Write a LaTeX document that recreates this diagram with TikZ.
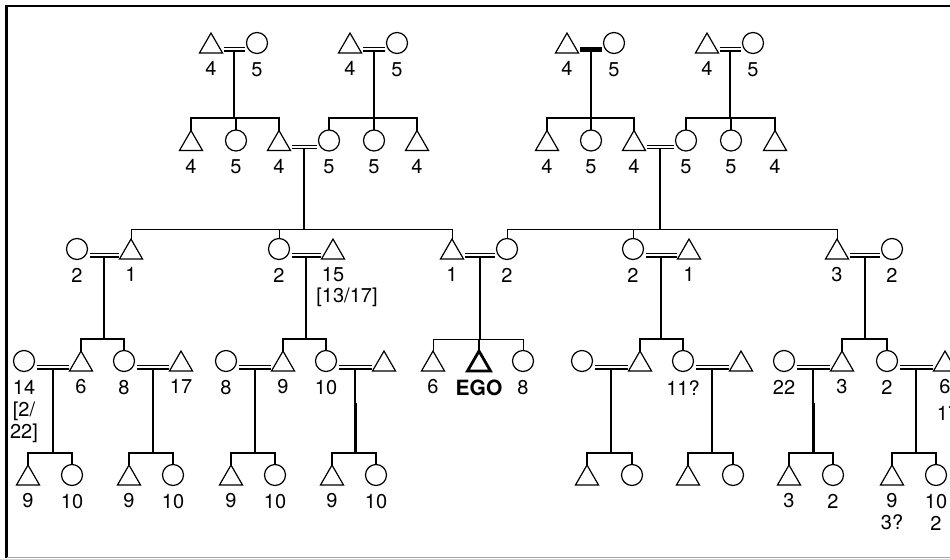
\documentclass[tikz,border=0pt]{standalone}
\usepackage{fontspec}
\setmainfont{TeX Gyre Heros}
\usetikzlibrary{shapes.geometric,calc}

\tikzset{
  person/.style={draw, line width=1.2pt, inner sep=0pt, outer sep=0pt},
  male/.style={person, regular polygon, regular polygon sides=3, minimum size=26.6pt, anchor=south},
  female/.style={person, circle, minimum size=21pt},
  ego/.style={male, line width=2.8pt},
  kin/.style={line width=2pt},
  bar/.style={line width=1.5pt},
  thinbar/.style={line width=1.0pt},
  marr/.style={double, double distance=1.9pt, line width=1.25pt},
  marrsolid/.style={line width=4.6pt},
  lab/.style={font=\fontsize{20}{22}\selectfont, inner sep=0pt, align=center},
  every label/.style={lab},
  label distance=8.5pt,
}

% marriage sign between two partners; #4 names the point the descent line starts from
\newcommand\wed[4][marr]{%
  \path (#2.south) -- (#3.south) coordinate[midway, yshift=2.3pt] (#4);
  \draw[#1] ($(#2.south |- #4)+(12.5,-1.6)$) -- ($(#3.south |- #4)+(-12.5,-1.6)$);}

% descent line and sibling bar from a marriage down to the outer children
\newcommand\sibs[5][bar]{%
  \draw[kin] (#2) -- (#2 |- #3);
  \draw[#1] (#4.north) |- (#5.north |- #3) -- (#5.north);}

% drop from a sibling bar to a middle child
\newcommand\drop[3][bar]{\draw[#1] (#3.north) -- (#3.north |- #2);}

\begin{document}
\begin{tikzpicture}[x=1pt,y=-1pt]
\useasboundingbox (0,0) rectangle (950,559);
\clip (0,0) rectangle (950,559);

% frame
\draw[line width=2.4pt] (6.5,5) -- (6.5,557.5);
\draw[line width=2pt] (5.3,6) -- (950,6);
\draw[black!35, line width=1pt] (6.5,557) -- (950,557);

% heights of the sibling bars
\coordinate (b2) at (0,118);
\coordinate (b3) at (0,229);
\coordinate (b4) at (0,339);
\coordinate (b5) at (0,453);

% generation 1
\node[male,   label=below:4] (g1a) at (211,53) {};
\node[female, label=below:5] (g1b) at (257,43) {};
\node[male,   label=below:4] (g1c) at (350,53) {};
\node[female, label=below:5] (g1d) at (397,43) {};
\node[male,   label=below:4] (g1e) at (567,53) {};
\node[female, label=below:5] (g1f) at (614,43) {};
\node[male,   label=below:4] (g1g) at (707,53) {};
\node[female, label=below:5] (g1h) at (753,43) {};

% generation 2
\node[male,   label=below:4] (g2a) at (191,150.5) {};
\node[female, label=below:5] (g2b) at (236,140.5) {};
\node[male,   label=below:4] (g2c) at (279,150.5) {};
\node[female, label=below:5] (g2d) at (329,140.5) {};
\node[female, label=below:5] (g2e) at (374,140.5) {};
\node[male,   label=below:4] (g2f) at (417,150.5) {};
\node[male,   label=below:4] (g2g) at (547,150.5) {};
\node[female, label=below:5] (g2h) at (591,140.5) {};
\node[male,   label=below:4] (g2i) at (634,150.5) {};
\node[female, label=below:5] (g2j) at (686,140.5) {};
\node[female, label=below:5] (g2k) at (731,140.5) {};
\node[male,   label=below:4] (g2l) at (775,150.5) {};

% generation 3
\node[female, label=below:2]  (g3a) at (77,249) {};
\node[male,   label=below:1]  (g3b) at (131,259) {};
\node[female, label=below:2]  (g3c) at (279,249) {};
\node[male,   label=below:15] (g3d) at (333,259) {};
\node[lab] (g3dx) at (347,297) {[13/17]};
\node[male,   label=below:1]  (g3e) at (452,259) {};
\node[female, label=below:2]  (g3f) at (507,249) {};
\node[female, label=below:2]  (g3g) at (633,249) {};
\node[male,   label=below:1]  (g3h) at (689,259) {};
\node[male,   label=below:3]  (g3i) at (837,259) {};
\node[female, label=below:2]  (g3j) at (892,249) {};

% generation 4
\node[female, label={below:14\\{[2/}\\22]}] (g4a) at (24,361) {};
\node[male,   label=below:6]   (g4b) at (81,371) {};
\node[female, label=below:8]   (g4c) at (124,361) {};
\node[male,   label=below:17]  (g4d) at (181,371) {};
\node[female, label=below:8]   (g4e) at (226,361) {};
\node[male,   label=below:9]   (g4f) at (283,371) {};
\node[female, label=below:10]  (g4g) at (326,361) {};
\node[male]                    (g4h) at (384,371) {};
\node[male,   label=below:6]   (g4i) at (433,371) {};
\node[ego,    label={below:{\fontsize{21}{22}\selectfont\bfseries EGO}}] (g4j) at (479,371) {};
\node[female, label=below:8]   (g4k) at (523,361) {};
\node[female]                  (g4l) at (582,361) {};
\node[male]                    (g4m) at (640,371) {};
\node[female, label=below:11?] (g4n) at (683,361) {};
\node[male]                    (g4o) at (741,371) {};
\node[female, label=below:22]  (g4p) at (784,361) {};
\node[male,   label=below:3]   (g4q) at (842,371) {};
\node[female, label=below:2]   (g4r) at (887,361) {};
\node[male,   label=below:6]   (g4s) at (945,371) {};
\node[lab] (g4sx) at (948,413) {17};

% generation 5
\node[male,   label=below:9]  (g5a) at (28,485) {};
\node[female, label=below:10] (g5b) at (72,475) {};
\node[male,   label=below:9]  (g5c) at (129,485) {};
\node[female, label=below:10] (g5d) at (173,475) {};
\node[male,   label=below:9]  (g5e) at (231,485) {};
\node[female, label=below:10] (g5f) at (275,475) {};
\node[male,   label=below:9]  (g5g) at (332,485) {};
\node[female, label=below:10] (g5h) at (376,475) {};
\node[male]                   (g5i) at (587,485) {};
\node[female]                 (g5j) at (632,475) {};
\node[male]                   (g5k) at (688,485) {};
\node[female]                 (g5l) at (733,475) {};
\node[male,   label=below:3]  (g5m) at (789,485) {};
\node[female, label=below:2]  (g5n) at (833,475) {};
\node[male,   label={below:9\\3?}] (g5o) at (892,485) {};
\node[female, label={below:10\\2}] (g5p) at (936,475) {};

% marriages and descent, generation 1 to 2
\wed{g1a}{g1b}{m1a}
\wed{g1c}{g1d}{m1b}
\wed[marrsolid]{g1e}{g1f}{m1c}
\wed{g1g}{g1h}{m1d}
\sibs{m1a}{b2}{g2a}{g2c} \drop{b2}{g2b}
\sibs{m1b}{b2}{g2d}{g2f} \drop{b2}{g2e}
\sibs{m1c}{b2}{g2g}{g2i} \drop{b2}{g2h}
\sibs{m1d}{b2}{g2j}{g2l} \drop{b2}{g2k}

% generation 2 to 3
\wed{g2c}{g2d}{m2a}
\wed{g2i}{g2j}{m2b}
\sibs[thinbar]{m2a}{b3}{g3b}{g3e} \drop[thinbar]{b3}{g3c}
\sibs[thinbar]{m2b}{b3}{g3f}{g3i} \drop[thinbar]{b3}{g3g}

% generation 3 to 4
\wed{g3a}{g3b}{m3a}
\wed{g3c}{g3d}{m3b}
\wed{g3e}{g3f}{m3c}
\wed{g3g}{g3h}{m3d}
\wed{g3i}{g3j}{m3e}
\sibs{m3a}{b4}{g4b}{g4c}
\sibs{m3b}{b4}{g4f}{g4g}
\sibs[thinbar]{m3c}{b4}{g4i}{g4k} \drop[kin]{b4}{g4j}
\sibs{m3d}{b4}{g4m}{g4n}
\sibs{m3e}{b4}{g4q}{g4r}

% generation 4 to 5
\wed{g4a}{g4b}{m4a}
\wed{g4c}{g4d}{m4b}
\wed{g4e}{g4f}{m4c}
\wed{g4g}{g4h}{m4d}
\wed{g4l}{g4m}{m4e}
\wed{g4n}{g4o}{m4f}
\wed{g4p}{g4q}{m4g}
\wed{g4r}{g4s}{m4h}
\sibs{m4a}{b5}{g5a}{g5b}
\sibs{m4b}{b5}{g5c}{g5d}
\sibs{m4c}{b5}{g5e}{g5f}
\sibs{m4d}{b5}{g5g}{g5h}
\sibs{m4e}{b5}{g5i}{g5j}
\sibs{m4f}{b5}{g5k}{g5l}
\sibs{m4g}{b5}{g5m}{g5n}
\sibs{m4h}{b5}{g5o}{g5p}

% heavier lower stretches of two descent lines
\draw[line width=3pt] ($(m4d)+(0,34)$) -- (m4d |- b5);
\draw[line width=3pt] ($(m4g)+(0,34)$) -- (m4g |- b5);
\end{tikzpicture}
\end{document}
